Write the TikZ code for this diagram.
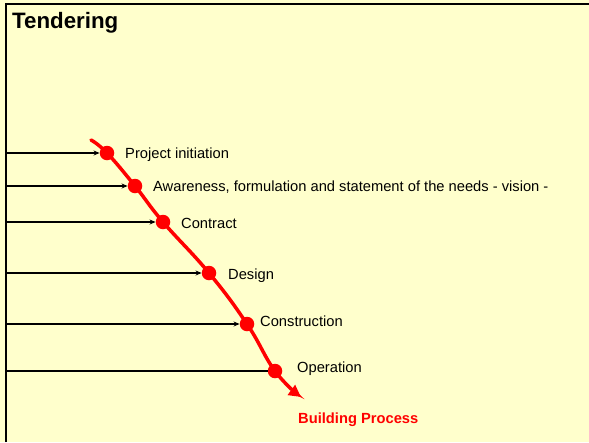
\documentclass[tikz,border=0pt]{standalone}
\usepackage{fontspec}
\setmainfont{Liberation Sans}
\usetikzlibrary{arrows.meta,positioning}
\definecolor{paper}{HTML}{FFFFCC}
\definecolor{flowred}{HTML}{FF0000}
\tikzset{
  frame/.style={draw=black, line width=2.8pt},
  flow/.style={draw=flowred, line width=3.5pt, line cap=round, -{Triangle[length=12pt,width=12pt]}},
  feed/.style={draw=black, line width=1.2pt, -{Stealth[length=6pt,width=5pt]}},
  plainfeed/.style={draw=black, line width=1.2pt},
  stage/.style={circle, fill=flowred, inner sep=0pt, minimum size=14.5pt},
  lab/.style={font=\fontsize{14.7}{17}\selectfont, inner sep=0pt, anchor=base west},
  result/.style={lab, text=flowred, font=\fontsize{14.7}{17}\selectfont\bfseries},
  heading/.style={font=\fontsize{22.3}{26}\selectfont\bfseries, inner sep=0pt, anchor=base west},
}
\begin{document}
\begin{tikzpicture}[x=1pt,y=-1pt]
  \fill[paper] (0,0) rectangle (589,442);
  \useasboundingbox (0,0) rectangle (589,442);

  % frame on the left and on top
  \coordinate (bl) at (6,442);
  \coordinate (tl) at (6,4);
  \coordinate (tr) at (589,4);
  \draw[frame] (bl) -- (tl) -- (tr);
  \node[heading] (title) at (12,28) {Tendering};

  % the building process
  \coordinate (c0) at (91,140);
  \coordinate (s1) at (107,153);
  \coordinate (s2) at (135,186);
  \coordinate (s3) at (163,222);
  \coordinate (s4) at (209,273);
  \coordinate (s5) at (247,324);
  \coordinate (s6) at (275,371);
  \coordinate (c7) at (301,397);
  \draw[flow] plot[smooth, tension=0.75] coordinates {(c0) (s1) (s2) (s3) (s4) (s5) (s6) (c7)};

  \node[stage] (init)   at (s1) {};
  \node[stage] (aware)  at (s2) {};
  \node[stage] (contr)  at (s3) {};
  \node[stage] (design) at (s4) {};
  \node[stage] (constr) at (s5) {};
  \node[stage] (oper)   at (s6) {};

  \node[lab] (initlab)   at (125,158) {Project initiation};
  \node[lab] (awarelab)  at (153,191) {Awareness, formulation and statement of the needs - vision -};
  \node[lab] (contrlab)  at (181,228) {Contract};
  \node[lab] (designlab) at (228,279) {Design};
  \node[lab] (constrlab) at (260,326) {Construction};
  \node[lab] (operlab)   at (297,372) {Operation};
  \node[result] (process) at (298,423) {Building Process};

  % inputs from the left
  \coordinate (f1) at (6,153);
  \coordinate (f2) at (6,186);
  \coordinate (f3) at (6,222);
  \coordinate (f4) at (6,273);
  \coordinate (f5) at (6,324);
  \coordinate (f6) at (6,371);
  \draw[feed] (f1) -- (init);
  \draw[feed] (f2) -- (aware);
  \draw[feed] (f3) -- (contr);
  \draw[feed] (f4) -- (design);
  \draw[feed] (f5) -- (constr);
  \draw[plainfeed] (f6) -- (oper);
\end{tikzpicture}
\end{document}
